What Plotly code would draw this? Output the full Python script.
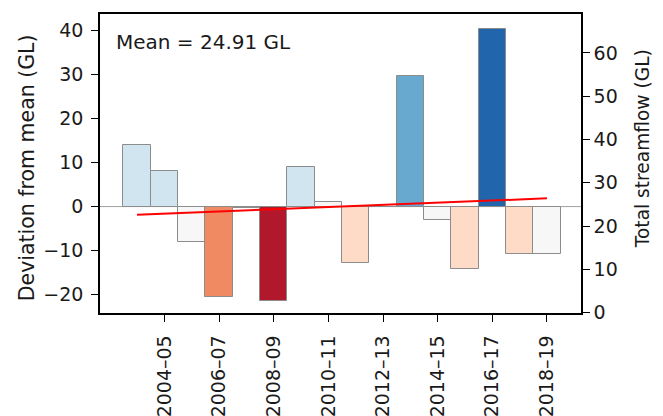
import numpy as np
import plotly.graph_objects as go

# ---- data ----
water_years = ["2003–04", "2004–05", "2005–06", "2006–07", "2007–08", "2008–09",
               "2009–10", "2010–11", "2011–12", "2012–13", "2013–14", "2014–15",
               "2015–16", "2016–17", "2017–18", "2018–19"]
deviation_gl = [14.0, 8.1, -8.0, -20.6, -0.4, -21.4, 8.9, 1.0, -12.8, -0.1,
                29.7, -3.1, -14.2, 40.4, -10.75, -10.75]
mean_flow_gl = 24.91
left_ticks = [-20, -10, 0, 10, 20, 30, 40]
right_ticks = [0, 10, 20, 30, 40, 50, 60]

# styles
bar_colors = ["#d1e5f0", "#d1e5f0", "#f7f7f7", "#ef8a62", "#f7f7f7", "#b2182b",
              "#d1e5f0", "#f7f7f7", "#fddbc7", "#f7f7f7", "#67a9cf", "#f7f7f7",
              "#fddbc7", "#2166ac", "#fddbc7", "#f7f7f7"]

FONT = "DejaVu Sans"
TXT = "#1a1a1a"
total_flow = [d + mean_flow_gl for d in deviation_gl]
idx = np.arange(len(deviation_gl))
slope, intercept = np.polyfit(idx, deviation_gl, 1)
trend = [intercept + slope * idx[0], intercept + slope * idx[-1]]

fig = go.Figure()
fig.add_trace(go.Bar(
    x=water_years, y=deviation_gl,
    marker=dict(color=bar_colors, line=dict(color="#8c8c8c", width=1)),
    width=1.0, showlegend=False, hoverinfo="x+y",
))
fig.add_trace(go.Scatter(
    x=[water_years[0], water_years[-1]], y=trend, mode="lines",
    line=dict(color="#ff0000", width=2), showlegend=False,
))
fig.add_trace(go.Scatter(
    x=water_years, y=total_flow, yaxis="y2", mode="markers",
    marker=dict(opacity=0), showlegend=False, hoverinfo="skip",
))

fig.add_shape(type="line", xref="paper", yref="y", x0=0, x1=1, y0=0, y1=0,
              line=dict(color="#a0a0a0", width=1), layer="below")

fig.add_annotation(text=f"Mean = {mean_flow_gl:.2f} GL", xref="paper", yref="paper",
                   x=0.030, y=0.905, xanchor="left", yanchor="middle", showarrow=False,
                   font=dict(size=20, color=TXT, family=FONT))
# axis titles placed as rotated text
fig.add_annotation(text="Deviation from mean (GL)", xref="paper", yref="paper",
                   x=-0.150, y=0.487, xanchor="center", yanchor="middle",
                   textangle=-90, showarrow=False,
                   font=dict(size=20.5, color=TXT, family=FONT))
fig.add_annotation(text="Total streamflow (GL)", xref="paper", yref="paper",
                   x=1.127, y=0.548, xanchor="center", yanchor="middle",
                   textangle=-90, showarrow=False,
                   font=dict(size=18.6, color=TXT, family=FONT))

axis_font = dict(size=19, color=TXT, family=FONT)
common = dict(ticks="outside", ticklen=7, tickwidth=1.3, tickcolor="black",
              showline=True, linecolor="black", linewidth=1.5,
              showgrid=False, zeroline=False, tickfont=axis_font, automargin=False)
fig.update_layout(
    width=663, height=416,
    margin=dict(l=100, r=82, t=14, b=103),
    paper_bgcolor="white", plot_bgcolor="white",
    bargap=0,
    font=dict(family=FONT, size=19, color=TXT),
    xaxis=dict(
        type="category", range=[-1.355, 16.245],
        tickmode="array", tickvals=water_years[1::2], ticktext=water_years[1::2],
        tickangle=-90, mirror=True, ticklabelstandoff=6, **common,
    ),
    yaxis=dict(range=[-24.2, 43.8], tickvals=left_ticks, ticklabelstandoff=4, **common),
    yaxis2=dict(overlaying="y", side="right", range=[-0.1, 69.0], tickvals=right_ticks,
                **common),
)

fig.write_html("out.html",
               config={"displayModeBar": False},
               post_script="document.body.style.margin='0px';"
                           "document.body.style.overflow='hidden';")
